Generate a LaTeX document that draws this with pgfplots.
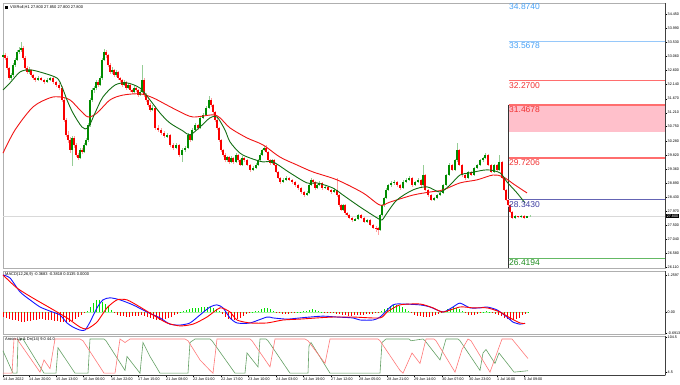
\documentclass[border=0pt]{standalone}
\usepackage{pgfplots}
\pgfplotsset{compat=1.18}
\usepackage{pgfplotstable}
\usepackage{fontspec}
\setmainfont{Liberation Sans}
\definecolor{upc}{RGB}{0,140,0}
\definecolor{dnc}{RGB}{250,0,0}
\definecolor{upw}{RGB}{150,205,150}
\definecolor{dnw}{RGB}{255,160,160}
\definecolor{maR}{RGB}{240,20,20}
\definecolor{maG}{RGB}{20,110,20}
\definecolor{fibB}{RGB}{70,160,245}
\definecolor{fibBl}{RGB}{150,200,250}
\definecolor{fibR}{RGB}{240,50,50}
\definecolor{fibRl}{RGB}{255,110,110}
\definecolor{pinkz}{RGB}{255,192,203}
\definecolor{fibN}{RGB}{60,60,160}
\definecolor{fibNl}{RGB}{100,100,180}
\definecolor{fibG}{RGB}{30,140,30}
\definecolor{fibGl}{RGB}{100,185,100}
\definecolor{frame}{RGB}{175,175,175}
\definecolor{macdB}{RGB}{20,20,255}
\definecolor{macdR}{RGB}{255,0,0}
\definecolor{histG}{RGB}{0,225,0}
\definecolor{histR}{RGB}{255,0,0}
\definecolor{arU}{RGB}{100,160,100}
\definecolor{arD}{RGB}{255,120,120}

\pgfplotstableread{
x o h l c
3 33.05 33.20 33.00 33.11
5 33.11 33.16 32.95 33.01
7 33.01 33.06 32.62 32.68
9 32.68 32.72 32.28 32.35
11 32.35 32.52 32.30 32.45
13 32.45 32.85 32.40 32.78
15 32.78 33.02 32.72 32.95
17 32.95 33.28 32.90 33.21
19 33.21 33.36 33.15 33.28
21 33.28 33.54 33.20 33.34
23 33.34 33.40 32.95 33.01
25 33.01 33.08 32.60 32.68
27 32.68 32.75 32.48 32.55
29 32.55 32.70 32.50 32.62
31 32.62 32.66 32.40 32.45
33 32.45 32.50 32.30 32.35
35 32.35 32.40 32.22 32.29
38 32.29 32.42 32.25 32.35
41 32.35 32.40 32.24 32.29
44 32.29 32.33 32.15 32.22
47 32.22 32.34 32.18 32.29
50 32.29 32.40 32.25 32.35
53 32.35 32.38 32.15 32.22
56 32.22 32.26 32.05 32.12
59 32.12 32.18 31.95 32.02
62 32.02 32.08 31.55 31.63
64 31.63 31.70 30.90 30.97
66 30.97 31.05 30.40 30.48
68 30.48 30.60 30.20 30.31
70 30.31 30.40 29.90 29.98
72 29.98 30.45 29.45 30.38
74 30.38 30.45 30.05 30.15
76 30.15 30.22 29.75 29.82
78 29.82 29.90 29.65 29.72
80 29.72 30.05 29.68 29.98
82 29.98 30.05 29.85 29.92
84 29.92 30.20 29.88 30.15
86 30.15 30.38 30.10 30.31
88 30.31 30.88 30.25 30.81
90 30.81 31.70 30.75 31.63
92 31.63 32.02 31.55 31.96
94 31.96 32.10 31.85 32.02
96 32.02 32.30 31.95 32.22
98 32.22 32.28 32.05 32.12
100 32.12 32.42 32.08 32.35
102 32.35 33.02 32.30 32.95
104 32.95 33.32 32.90 33.21
106 33.21 33.28 33.02 33.11
108 33.11 33.15 32.70 32.78
110 32.78 32.85 32.48 32.55
112 32.55 32.70 32.50 32.62
114 32.62 32.66 32.38 32.45
116 32.45 32.60 32.40 32.55
118 32.55 32.58 32.30 32.35
120 32.35 32.40 32.22 32.29
122 32.29 32.33 32.05 32.12
124 32.12 32.28 32.08 32.22
126 32.22 32.25 31.95 32.02
128 32.02 32.18 31.98 32.12
130 32.12 32.15 31.90 31.96
132 31.96 32.00 31.82 31.89
134 31.89 32.08 31.85 32.02
136 32.02 32.05 31.90 31.96
138 31.96 32.00 31.72 31.79
140 31.79 31.95 31.75 31.89
142 31.89 32.78 31.85 32.29
144 32.29 32.35 31.72 31.79
146 31.79 31.85 31.55 31.63
148 31.63 31.68 31.40 31.46
150 31.46 31.52 31.22 31.30
152 31.30 31.45 31.25 31.37
155 31.37 31.42 30.65 30.71
158 30.71 30.80 30.58 30.64
161 30.64 30.70 30.48 30.54
164 30.54 30.60 30.38 30.43
167 30.43 30.55 30.38 30.48
170 30.48 30.52 30.08 30.15
173 30.15 30.20 29.98 30.05
176 30.05 30.22 30.00 30.15
179 30.15 30.18 29.75 29.82
182 29.82 30.05 29.59 29.98
185 29.98 30.10 29.92 30.05
188 30.05 30.55 30.00 30.48
190 30.48 30.52 30.25 30.31
192 30.31 30.70 30.28 30.64
195 30.64 30.88 30.60 30.81
198 30.81 30.85 30.65 30.71
200 30.71 31.10 30.68 31.04
203 31.04 31.20 31.00 31.14
206 31.14 31.42 31.10 31.37
209 31.37 31.75 31.32 31.63
211 31.63 31.68 31.40 31.46
213 31.46 31.50 31.18 31.24
215 31.24 31.28 30.92 30.97
217 30.97 31.02 30.65 30.71
219 30.71 30.75 30.25 30.31
221 30.31 30.35 29.92 29.98
223 29.98 30.02 29.76 29.82
225 29.82 29.88 29.60 29.65
227 29.65 29.80 29.60 29.75
229 29.75 29.78 29.52 29.59
231 29.59 29.78 29.55 29.72
233 29.72 29.75 29.53 29.59
236 29.59 29.88 29.55 29.82
238 29.82 29.85 29.60 29.65
240 29.65 29.70 29.44 29.49
242 29.49 29.78 29.45 29.72
244 29.72 29.76 29.60 29.65
247 29.65 29.68 29.44 29.49
250 29.49 29.52 29.27 29.32
253 29.32 29.45 29.28 29.39
256 29.39 29.54 29.35 29.49
258 29.49 29.70 29.45 29.65
260 29.65 29.88 29.62 29.82
262 29.82 30.02 29.78 29.98
264 29.98 30.10 29.94 30.05
266 30.05 30.14 29.88 29.92
268 29.92 29.96 29.60 29.65
270 29.65 29.70 29.50 29.56
272 29.56 29.70 29.52 29.65
274 29.65 29.68 29.44 29.49
276 29.49 29.52 29.22 29.26
278 29.26 29.30 29.02 29.06
280 29.06 29.10 28.88 28.93
283 28.93 29.05 28.90 29.00
286 29.00 29.12 28.96 29.06
289 29.06 29.08 28.95 29.00
292 29.00 29.04 28.88 28.93
295 28.93 28.96 28.78 28.83
298 28.83 28.88 28.68 28.73
301 28.73 28.76 28.55 28.60
304 28.60 28.64 28.45 28.50
307 28.50 28.62 28.46 28.57
309 28.57 28.88 28.53 28.83
311 28.83 29.05 28.80 29.00
313 29.00 29.04 28.88 28.93
315 28.93 28.96 28.68 28.73
317 28.73 28.88 28.70 28.83
319 28.83 28.95 28.80 28.90
322 28.90 28.94 28.68 28.73
325 28.73 28.80 28.70 28.77
328 28.77 28.80 28.62 28.67
331 28.67 28.70 28.55 28.60
334 28.60 28.72 28.57 28.67
337 28.67 29.05 28.45 28.50
339 28.50 28.54 28.12 28.17
341 28.17 28.20 27.96 28.01
343 28.01 28.22 27.98 28.17
345 28.17 28.20 27.86 27.91
347 27.91 27.95 27.80 27.84
349 27.84 27.88 27.70 27.75
352 27.75 27.78 27.62 27.68
355 27.68 27.76 27.64 27.71
358 27.71 27.88 27.68 27.84
361 27.84 27.87 27.70 27.75
364 27.75 27.78 27.57 27.61
367 27.61 27.72 27.58 27.68
370 27.68 27.71 27.48 27.52
373 27.52 27.56 27.38 27.42
376 27.42 27.48 27.30 27.40
378 27.40 27.46 27.19 27.35
380 27.35 27.88 27.32 27.84
382 27.84 28.22 27.80 28.17
384 28.17 28.45 28.12 28.40
386 28.40 28.72 28.36 28.67
388 28.67 28.88 28.62 28.83
391 28.83 28.95 28.78 28.90
394 28.90 28.98 28.82 28.93
397 28.93 28.96 28.78 28.83
400 28.83 28.86 28.68 28.73
403 28.73 28.98 28.70 28.93
406 28.93 29.05 28.90 29.00
409 29.00 29.12 28.96 29.06
412 29.06 29.09 28.78 28.83
415 28.83 28.97 28.80 28.93
418 28.93 29.05 28.90 29.00
421 29.00 29.03 28.78 28.83
423 28.83 29.50 28.80 29.16
425 29.16 29.20 28.62 28.67
428 28.67 28.71 28.45 28.50
431 28.50 28.55 28.30 28.34
434 28.34 28.45 28.30 28.40
437 28.40 28.55 28.36 28.50
440 28.50 28.60 28.46 28.57
443 28.57 28.88 28.53 28.83
446 28.83 29.20 28.80 29.16
449 29.16 29.55 29.12 29.49
452 29.49 29.52 29.28 29.32
455 29.32 29.70 29.28 29.65
457 29.65 30.20 29.60 29.98
459 29.98 30.02 29.44 29.49
462 29.49 29.53 29.10 29.16
465 29.16 29.20 29.00 29.06
468 29.06 29.30 29.02 29.26
471 29.26 29.30 29.12 29.16
474 29.16 29.42 29.12 29.39
477 29.39 29.52 29.35 29.49
480 29.49 29.68 29.45 29.65
483 29.65 29.75 29.60 29.72
485 29.72 29.88 29.68 29.82
488 29.82 29.85 29.44 29.49
491 29.49 29.52 29.22 29.26
494 29.26 29.52 29.22 29.49
497 29.49 29.52 29.28 29.32
499 29.32 29.83 29.28 29.59
502 29.59 29.62 29.02 29.06
504 29.06 29.10 28.62 28.67
506 28.67 28.70 28.30 28.34
508 28.34 28.38 28.12 28.17
510 28.17 28.20 27.90 27.94
512 27.94 27.98 27.72 27.75
515 27.75 27.84 27.72 27.81
518 27.81 27.82 27.75 27.78
521 27.78 27.84 27.76 27.81
524 27.81 27.83 27.72 27.75
527 27.75 27.82 27.74 27.80
530 27.80 27.85 27.80 27.80
}\candles

\pgfplotstableread{
x v
3 -0.15
6 -0.18
9 -0.22
12 -0.25
15 -0.27
18 -0.30
21 -0.33
24 -0.33
27 -0.31
30 -0.28
33 -0.26
36 -0.25
39 -0.24
42 -0.24
45 -0.25
48 -0.26
51 -0.27
54 -0.28
57 -0.30
60 -0.32
63 -0.34
66 -0.35
69 -0.33
72 -0.28
75 -0.22
78 -0.15
81 -0.08
84 -0.02
87 0.05
90 0.18
93 0.32
96 0.40
99 0.42
102 0.36
105 0.28
108 0.18
111 0.08
114 -0.02
117 -0.08
120 -0.12
123 -0.14
126 -0.15
129 -0.15
132 -0.14
135 -0.13
138 -0.12
141 -0.10
144 -0.12
147 -0.16
150 -0.20
153 -0.24
156 -0.26
159 -0.27
162 -0.26
165 -0.24
168 -0.20
171 -0.15
174 -0.10
177 -0.05
180 0.02
183 0.06
186 0.09
189 0.12
192 0.14
195 0.15
198 0.16
201 0.17
204 0.18
207 0.19
210 0.18
213 0.15
216 0.10
219 0.03
222 -0.06
225 -0.15
228 -0.22
231 -0.26
234 -0.27
237 -0.24
240 -0.18
243 -0.12
246 -0.06
249 -0.02
252 0.01
255 0.03
258 0.06
261 0.10
264 0.14
267 0.14
270 0.10
273 0.04
276 -0.01
279 -0.03
282 -0.05
285 -0.06
288 -0.06
291 -0.04
294 -0.02
297 0.01
300 0.02
303 0.03
306 0.06
309 0.09
312 0.11
315 0.09
318 0.05
321 0.02
324 -0.01
327 -0.02
330 -0.03
333 -0.04
336 -0.05
339 -0.06
342 -0.08
345 -0.10
348 -0.11
351 -0.11
354 -0.10
357 -0.09
360 -0.09
363 -0.08
366 -0.07
369 -0.06
372 -0.05
375 -0.04
378 -0.02
381 0.04
384 0.10
387 0.16
390 0.21
393 0.24
396 0.25
399 0.22
402 0.17
405 0.10
408 0.03
411 -0.04
414 -0.09
417 -0.12
420 -0.14
423 -0.16
426 -0.16
429 -0.15
432 -0.13
435 -0.10
438 -0.06
441 -0.02
444 0.04
447 0.10
450 0.15
453 0.17
456 0.15
459 0.10
462 0.03
465 -0.04
468 -0.08
471 -0.10
474 -0.09
477 -0.06
480 -0.02
483 0.02
486 0.04
489 0.02
492 -0.03
495 -0.07
498 -0.10
501 -0.14
504 -0.19
507 -0.24
510 -0.27
513 -0.27
516 -0.24
519 -0.18
522 -0.10
525 -0.05
528 0.01
}\hist

\pgfplotsset{
  mtpanel/.style={scale only axis, width=662pt, xmin=3, xmax=665, clip=false,
    axis line style={frame, line width=0.8pt},
    tick style={black, line width=0.4pt}, major tick length=1.8pt, tick align=outside,
    yticklabel pos=right, ytick pos=right, xtick pos=bottom,
    ticklabel style={font=\fontsize{3.7}{4.2}\selectfont, inner sep=0.7pt},
    /pgf/number format/assume math mode=true},
}

\begin{document}
\begin{tikzpicture}
\useasboundingbox (0pt,0pt) rectangle (680pt,-385pt);
% ---------- main price panel ----------
\begin{axis}[mtpanel, at={(3pt,-3pt)}, anchor=north west, height=265pt,
  ymin=26.10, ymax=34.82, xtick=\empty,
  ytick={34.450,33.990,33.530,33.060,32.600,32.140,31.670,31.210,30.750,30.280,29.820,29.360,28.890,28.430,27.970,27.500,27.040,26.580,26.110},
  yticklabels={34.450,33.990,33.530,33.060,32.600,32.140,31.670,31.210,30.750,30.280,29.820,29.360,28.890,28.430,27.970,27.500,27.040,26.580,26.110}]
% current price line
\addplot[draw=black!15, line width=1.3pt] coordinates {(3,27.80) (665,27.80)};
% fibo zone and levels
\addplot[draw=none, fill=pinkz] coordinates {(508.7,31.4678) (665,31.4678) (665,30.59) (508.7,30.59)} -- cycle;
\addplot[fibBl, line width=0.8pt] coordinates {(508.7,33.5678) (665,33.5678)};
\addplot[fibRl, line width=1.3pt] coordinates {(508.7,32.2700) (665,32.2700)};
\addplot[fibRl, line width=1.3pt] coordinates {(508.7,31.4678) (665,31.4678)};
\addplot[fibRl, line width=1.3pt] coordinates {(508.7,29.7206) (665,29.7206)};
\addplot[fibNl, line width=1.3pt] coordinates {(508.7,28.3430) (665,28.3430)};
\addplot[fibGl, line width=1.3pt] coordinates {(508.7,26.4194) (665,26.4194)};
\addplot[black!80, line width=0.8pt] coordinates {(508.7,31.4678) (508.7,26.10)};
% candles
\addplot[draw=none, mark=none, restrict expr to domain={\thisrow{c}-\thisrow{o}}{0:100},
  error bars/.cd, y dir=both, y explicit, error mark=none, error bar style={upw, line width=0.6pt}]
  table[x=x, y expr={(\thisrow{h}+\thisrow{l})/2}, y error expr={(\thisrow{h}-\thisrow{l})/2}] {\candles};
\addplot[draw=none, mark=none, restrict expr to domain={\thisrow{c}-\thisrow{o}}{-100:-0.0001},
  error bars/.cd, y dir=both, y explicit, error mark=none, error bar style={dnw, line width=0.6pt}]
  table[x=x, y expr={(\thisrow{h}+\thisrow{l})/2}, y error expr={(\thisrow{h}-\thisrow{l})/2}] {\candles};
\addplot[draw=none, mark=none, restrict expr to domain={\thisrow{c}-\thisrow{o}}{0:100},
  error bars/.cd, y dir=both, y explicit, error mark=none, error bar style={upc, line width=1.3pt}]
  table[x=x, y expr={(\thisrow{o}+\thisrow{c})/2}, y error expr={abs(\thisrow{c}-\thisrow{o})/2}] {\candles};
\addplot[draw=none, mark=none, restrict expr to domain={\thisrow{c}-\thisrow{o}}{-100:-0.0001},
  error bars/.cd, y dir=both, y explicit, error mark=none, error bar style={dnc, line width=1.3pt}]
  table[x=x, y expr={(\thisrow{o}+\thisrow{c})/2}, y error expr={abs(\thisrow{c}-\thisrow{o})/2}] {\candles};
% moving averages
\addplot[maR, line width=0.9pt, smooth, tension=0.5] coordinates {
(3,29.88) (15,30.64) (33,31.40) (50,31.70) (60,31.73) (70,31.63) (80,31.30) (88,31.07) (97,31.20)
(110,31.63) (123,31.79) (140,31.83) (153,31.70) (167,31.46) (180,31.24) (193,31.07) (213,31.14)
(220,31.04) (230,30.71) (247,30.38) (263,30.15) (280,29.75) (297,29.49) (313,29.26) (337,29.00)
(363,28.57) (380,28.17) (390,28.27) (413,28.50) (430,28.60) (443,28.67) (460,28.90) (477,29.00)
(493,29.16) (503,29.10) (515,28.83) (527,28.57)};
\addplot[maG, line width=0.9pt, smooth, tension=0.5] coordinates {
(3,31.96) (10,32.19) (20,32.55) (30,32.62) (43,32.52) (57,32.35) (62,32.06) (67,31.63) (73,31.20)
(82,30.74) (88,30.71) (95,31.20) (103,31.73) (115,32.12) (127,32.19) (140,32.02) (150,31.63)
(160,31.20) (170,30.87) (183,30.61) (190,30.48) (200,30.74) (210,31.04) (217,31.07) (225,30.64)
(230,30.25) (240,29.88) (250,29.72) (263,29.59) (273,29.59) (290,29.23) (307,28.90) (317,28.90)
(333,28.73) (343,28.50) (360,28.11) (377,27.75) (382,27.68) (387,27.91) (397,28.34) (413,28.67)
(427,28.77) (440,28.60) (450,28.83) (460,29.16) (470,29.23) (487,29.33) (500,29.23) (507,28.93)
(517,28.57) (525,28.24)};
% fibo labels
\begin{scope}[every node/.style={anchor=north west, inner sep=0pt, font=\fontsize{8.5}{9}\selectfont}]
\node[text=fibB] at (axis cs:509,34.80) {34.8740};
\node[text=fibB] at (axis cs:509,33.52) {33.5678};
\node[text=fibR] at (axis cs:509,32.22) {32.2700};
\node[text=fibR] at (axis cs:509,31.42) {31.4678};
\node[text=fibR] at (axis cs:509,29.67) {29.7206};
\node[text=fibN] at (axis cs:509,28.29) {28.3430};
\node[text=fibG] at (axis cs:509,26.37) {26.4194};
\end{scope}
\node[anchor=west, fill=black, text=white, inner sep=0.6pt, font=\fontsize{3.7}{4.2}\selectfont] at (axis cs:666,27.80) {27.800};
\fill[black] (axis cs:5,34.72) rectangle (axis cs:8,34.63);
\node[anchor=west, inner sep=0pt, font=\fontsize{4}{4.5}\selectfont] at (axis cs:10,34.68) {VIXRoll,H1  27.800 27.850 27.800 27.800};
\draw[black!75, line width=0.6pt] (rel axis cs:1,0) -- (rel axis cs:1,1);
\end{axis}

% ---------- MACD panel ----------
\begin{axis}[mtpanel, at={(3pt,-271pt)}, anchor=north west, height=63pt,
  ymin=-0.733, ymax=1.395, xtick=\empty,
  ytick={1.2597,0,-0.6913}, yticklabels={1.2597,0.00,-0.6913}]
\addplot[draw=histG!35, line width=0.6pt] coordinates {(3,0) (528,0)};
\addplot[ycomb, histR, line width=1.0pt, restrict y to domain=-5:-0.0001] table[x=x, y=v] {\hist};
\addplot[ycomb, histG, line width=1.0pt, restrict y to domain=0:5] table[x=x, y=v] {\hist};
\addplot[macdB, line width=0.9pt, smooth, tension=0.4] coordinates {
(3,1.26) (10,1.16) (20,0.69) (30,0.42) (40,0.18) (50,0.04) (60,-0.09) (67,-0.36) (73,-0.50) (80,-0.60)
(85,-0.60) (90,-0.33) (97,0.15) (103,0.42) (110,0.49) (120,0.42) (133,0.25) (147,0.01) (160,-0.19)
(170,-0.40) (180,-0.43) (190,-0.36) (200,-0.09) (210,0.18) (217,0.25) (223,0.15) (230,-0.19)
(237,-0.36) (250,-0.36) (267,-0.16) (273,-0.19) (287,-0.23) (300,-0.19) (310,-0.16) (323,-0.13)
(337,-0.16) (353,-0.19) (360,-0.26) (373,-0.26) (380,-0.16) (393,0.25) (403,0.28) (420,0.25)
(430,0.18) (443,0.01) (453,0.18) (460,0.31) (470,0.15) (480,0.15) (487,0.18) (497,0.08)
(507,-0.16) (513,-0.33) (520,-0.40) (525,-0.37)};
\addplot[macdR, line width=0.9pt, smooth, tension=0.4] coordinates {
(3,1.26) (17,0.82) (33,0.48) (50,0.15) (67,-0.19) (80,-0.50) (87,-0.56) (97,-0.33) (107,0.15)
(117,0.42) (127,0.42) (140,0.18) (153,-0.09) (167,-0.36) (180,-0.46) (193,-0.40) (207,-0.16)
(220,0.15) (230,0.01) (237,-0.26) (250,-0.36) (267,-0.36) (283,-0.26) (300,-0.23) (317,-0.19)
(333,-0.16) (353,-0.16) (380,-0.19) (387,0.01) (400,0.25) (420,0.28) (433,0.15) (443,0.01)
(460,0.18) (473,0.15) (487,0.15) (500,0.01) (510,-0.19) (520,-0.36) (525,-0.38)};
\node[anchor=north west, inner sep=0pt, font=\fontsize{4}{4.5}\selectfont] at (axis cs:5,1.36) {MACD(12,26,9) -0.3683 -0.3818 0.0135 0.0000};
\draw[black!75, line width=0.6pt] (rel axis cs:1,0) -- (rel axis cs:1,1);
\end{axis}

% ---------- Aroon panel ----------
\begin{axis}[mtpanel, at={(3pt,-336pt)}, anchor=north west, height=39pt,
  ymin=-3.2, ymax=108.6,
  ytick={104.5,4.5}, yticklabels={104.5,4.5},
  xtick={3,29,56,83,111,138,166,193,221,248,276,303,331,359,387,414,442,469,497,524},
  xticklabels={14 Jun 2022,14 Jun 20:00,15 Jun 13:00,16 Jun 06:00,16 Jun 22:00,17 Jun 15:00,21 Jun 08:00,22 Jun 01:00,22 Jun 17:00,23 Jun 10:00,24 Jun 03:00,24 Jun 19:00,27 Jun 12:00,28 Jun 05:00,28 Jun 21:00,29 Jun 14:00,30 Jun 07:00,30 Jun 23:00,1 Jul 16:00,5 Jul 09:00},
  xticklabel style={anchor=north west, inner xsep=0pt, inner ysep=1pt}]
\addplot[arU, line width=0.6pt] coordinates {
(3,66) (13,2) (17,2) (18,95) (21,100) (23,100) (44,2) (56,2) (58,75) (75,2) (88,2) (90,100) (104,100)
(106,95) (125,10) (127,50) (140,2) (143,90) (150,50) (160,2) (188,2) (190,90) (195,100) (210,100)
(212,95) (235,2) (245,2) (247,60) (258,20) (260,100) (266,100) (268,95) (290,2) (308,2) (309,80)
(311,90) (330,2) (380,2) (382,90) (386,100) (409,100) (411,95) (423,100) (425,95) (440,40) (446,100)
(458,100) (460,95) (480,10) (483,60) (486,70) (495,30) (499,60) (510,20) (514,5) (528,9)};
\addplot[arD, line width=0.6pt] coordinates {
(3,2) (12,2) (14,100) (17,100) (40,5) (44,40) (50,15) (55,100) (80,100) (83,95) (100,20) (104,2)
(115,2) (120,100) (125,90) (130,100) (155,100) (185,100) (188,95) (200,40) (210,10) (213,2) (217,100)
(250,100) (252,95) (270,20) (275,100) (305,100) (308,95) (325,30) (330,100) (378,100) (380,95)
(400,10) (403,2) (412,60) (420,30) (426,100) (434,100) (436,95) (455,5) (462,70) (468,100) (471,95)
(490,5) (502,100) (512,100) (528,44)};
\node[anchor=north west, inner sep=0pt, font=\fontsize{4}{4.5}\selectfont] at (axis cs:5,106) {Aroon Up \& Dn(14) 9.0 44.0};
\draw[black!75, line width=0.6pt] (rel axis cs:1,0) -- (rel axis cs:1,1);
\draw[black!75, line width=0.6pt] (rel axis cs:0,0) -- (rel axis cs:1,0);
\end{axis}
\end{tikzpicture}
\end{document}
